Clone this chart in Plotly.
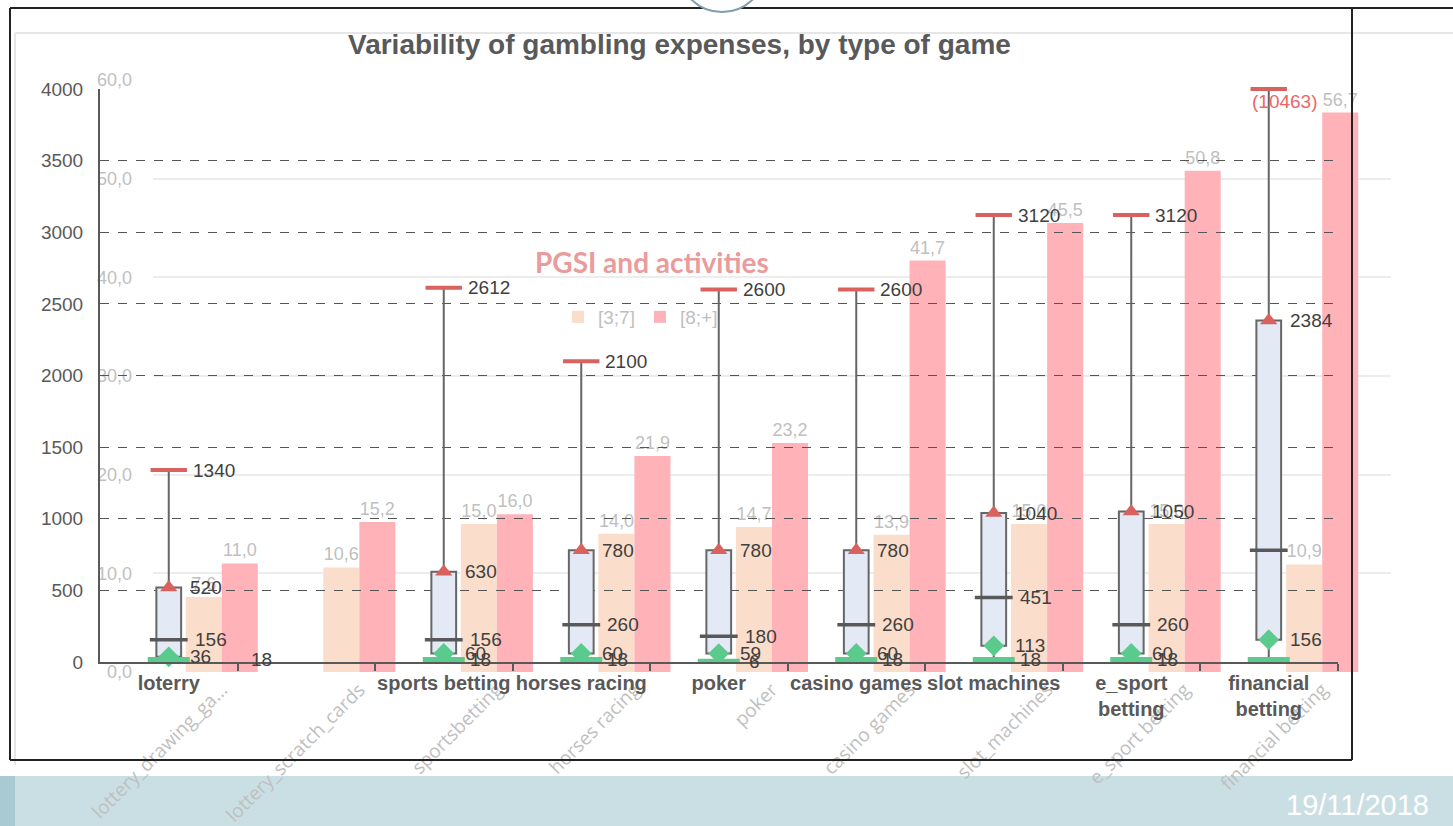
import plotly.graph_objects as go

W, H = 1453, 826

# ---------------- Box chart data (expenses) ----------------
box_labels = ["<b>loterry</b>", "", "<b>sports betting</b>", "<b>horses racing</b>", "<b>poker</b>",
              "<b>casino games</b>", "<b>slot machines</b>", "<b>e_sport<br>betting</b>",
              "<b>financial<br>betting</b>"]
box_idx = [0, 2, 3, 4, 5, 6, 7, 8]
box_max = [1340, 2612, 2100, 2600, 2600, 3120, 3120, 10463]
box_q3 = [520, 630, 780, 780, 780, 1040, 1050, 2384]
box_med = [156, 156, 260, 180, 260, 451, 260, 780]
box_q1 = [36, 60, 60, 59, 60, 113, 60, 156]
box_min = [18, 18, 18, 6, 18, 18, 18, 18]
med_shown = [True, True, True, True, True, True, True, False]
min_shown = [True, True, True, True, True, True, True, False]
box_ticks = [0, 500, 1000, 1500, 2000, 2500, 3000, 3500, 4000]
BOX_TOP = 4000

# ---------------- Bar chart data (PGSI and activities) ----------------
bar_cats = ["lottery_drawing_ga...", "lottery_scratch_cards", "sportsbetting", "horses racing",
            "poker", "casino games", "slot_machines", "e_sport betting", "financial betting"]
pgsi_3_7 = [7.6, 10.6, 15.0, 14.0, 14.7, 13.9, 15.0, 15.0, 10.9]
pgsi_8p = [11.0, 15.2, 16.0, 21.9, 23.2, 41.7, 45.5, 50.8, 56.7]
bar_ticks = [0, 10, 20, 30, 40, 50, 60]

# label pixel offsets (style)
min_label_dx = [80, 24, 24, 28, 24, 24, 24, 24]

RED = "#D9625F"
GREEN = "#5ACB8C"
DARK = "#595959"
LBL = "#404040"
LIGHT = "#BFBFBF"
PEACH = "#FADDCA"
PINK = "#FFB3B8"


def fx(p):
    return p / W


def fy(p):
    return 1 - p / H


def fmt(v):
    return f"{v:.1f}".replace(".", ",")


fig = go.Figure()

# bars (bottom subplot x/y)
fig.add_trace(go.Bar(x=bar_cats, y=pgsi_3_7, name="[3;7]", marker=dict(color=PEACH, line=dict(width=0)),
                     text=[fmt(v) for v in pgsi_3_7], textposition="outside",
                     textfont=dict(color=LIGHT, size=18, family="Liberation Sans"),
                     cliponaxis=False, xaxis="x", yaxis="y"))
fig.add_trace(go.Bar(x=bar_cats, y=pgsi_8p, name="[8;+]", marker=dict(color=PINK, line=dict(width=0)),
                     text=[fmt(v) for v in pgsi_8p], textposition="outside",
                     textfont=dict(color=LIGHT, size=18, family="Liberation Sans"),
                     cliponaxis=False, xaxis="x", yaxis="y"))

# box chart (top subplot x2/y2)
fig.add_trace(go.Box(x=box_idx, q1=box_q1, median=box_med, q3=box_q3,
                     lowerfence=box_min, upperfence=box_max, width=0.18,
                     fillcolor="#E4EAF5", line=dict(color="#666666", width=2),
                     whiskerwidth=0, boxpoints=False, showlegend=False, hoverinfo="skip",
                     xaxis="x2", yaxis="y2"))
fig.add_trace(go.Scatter(x=box_idx, y=box_min, mode="markers", showlegend=False, hoverinfo="skip",
                         marker=dict(symbol="line-ew", size=30, line=dict(color=GREEN, width=5)),
                         cliponaxis=False, xaxis="x2", yaxis="y2"))
fig.add_trace(go.Scatter(x=box_idx, y=box_q1, mode="markers", showlegend=False, hoverinfo="skip",
                         marker=dict(symbol="diamond", size=16, color=GREEN, line=dict(width=0)),
                         cliponaxis=False, xaxis="x2", yaxis="y2"))
fig.add_trace(go.Scatter(x=box_idx, y=box_med, mode="markers", showlegend=False, hoverinfo="skip",
                         marker=dict(symbol="line-ew", size=27, line=dict(color=DARK, width=3.5)),
                         xaxis="x2", yaxis="y2"))
fig.add_trace(go.Scatter(x=box_idx, y=box_q3, mode="markers", showlegend=False, hoverinfo="skip",
                         marker=dict(symbol="triangle-up", size=15, color=RED, line=dict(width=0)),
                         xaxis="x2", yaxis="y2"))
fig.add_trace(go.Scatter(x=box_idx, y=[min(v, BOX_TOP) for v in box_max], mode="markers",
                         showlegend=False, hoverinfo="skip",
                         marker=dict(symbol="line-ew", size=26, line=dict(color=RED, width=4)),
                         cliponaxis=False, xaxis="x2", yaxis="y2"))

annotations = []
lab_font = dict(family="Liberation Sans", size=19, color=LBL)


def add_lab(x, y, text, dx, color=None, xanchor="left", dy=0):
    f = dict(lab_font)
    if color:
        f["color"] = color
    annotations.append(dict(x=x, y=y, xref="x2", yref="y2", text=text, showarrow=False,
                            xanchor=xanchor, yanchor="middle", xshift=dx, yshift=dy, font=f))


for i, x in enumerate(box_idx):
    if box_max[i] <= BOX_TOP:
        add_lab(x, box_max[i], str(box_max[i]), 22)
    else:
        add_lab(x, BOX_TOP, f"({box_max[i]})", 16, color="#EE6666", xanchor="center", dy=-12)
    add_lab(x, box_q3[i], str(box_q3[i]), 19)
    if med_shown[i]:
        add_lab(x, box_med[i], str(box_med[i]), 24)
    add_lab(x, box_q1[i], str(box_q1[i]), 19)
    if min_shown[i]:
        add_lab(x, box_min[i], str(box_min[i]), min_label_dx[i])

# titles
annotations.append(dict(x=fx(679), y=fy(44), xref="paper", yref="paper", showarrow=False,
                        text="<b>Variability of gambling expenses, by type of game</b>",
                        font=dict(family="Liberation Sans", size=28, color=DARK),
                        xanchor="center", yanchor="middle"))
annotations.append(dict(x=fx(652), y=fy(262), xref="paper", yref="paper", showarrow=False,
                        text="<b>PGSI and activities</b>",
                        font=dict(family="Lato", size=28, color="#EA9C9C"),
                        xanchor="center", yanchor="middle"))
annotations.append(dict(x=fx(1284), y=fy(805), xref="paper", yref="paper", showarrow=False,
                        text="19/11/2018", font=dict(family="Liberation Sans", size=29, color="white"),
                        xanchor="left", yanchor="middle"))

shapes = [
    # bottom band
    dict(type="rect", xref="paper", yref="paper", x0=0, x1=1, y0=fy(826), y1=fy(776),
         fillcolor="#C9DFE4", line=dict(width=0), layer="below"),
    dict(type="rect", xref="paper", yref="paper", x0=0, x1=fx(15), y0=fy(826), y1=fy(776),
         fillcolor="#A9CAD2", line=dict(width=0), layer="below"),
    # light inner frame lines
    dict(type="line", xref="paper", yref="paper", x0=fx(15), x1=1, y0=fy(33), y1=fy(33),
         line=dict(color="#E6E6E6", width=2), layer="below"),
    dict(type="line", xref="paper", yref="paper", x0=fx(15), x1=fx(15), y0=fy(33), y1=fy(765),
         line=dict(color="#E6E6E6", width=2), layer="below"),
    # black frame
    dict(type="line", xref="paper", yref="paper", x0=fx(10), x1=1, y0=fy(8), y1=fy(8),
         line=dict(color="#222222", width=2), layer="above"),
    dict(type="line", xref="paper", yref="paper", x0=fx(10), x1=fx(10), y0=fy(8), y1=fy(760),
         line=dict(color="#222222", width=2), layer="above"),
    dict(type="line", xref="paper", yref="paper", x0=fx(10), x1=fx(1352), y0=fy(760), y1=fy(760),
         line=dict(color="#222222", width=2), layer="above"),
    dict(type="line", xref="paper", yref="paper", x0=fx(1352), x1=fx(1352), y0=fy(8), y1=fy(760),
         line=dict(color="#222222", width=2), layer="above"),
    # decorative circle at top
    dict(type="circle", xref="paper", yref="paper", x0=fx(678), x1=fx(766), y0=fy(12), y1=fy(-76),
         fillcolor="white", line=dict(color="#7E9FA8", width=2), layer="above"),
]

fig.update_layout(
    template="none",
    width=W, height=H,
    margin=dict(l=0, r=0, t=0, b=0, autoexpand=False),
    paper_bgcolor="white", plot_bgcolor="rgba(0,0,0,0)",
    barmode="group", bargap=0.476, bargroupgap=0,
    showlegend=True,
    legend=dict(orientation="h", x=fx(558), y=fy(298), xanchor="left", yanchor="top",
                font=dict(family="Liberation Sans", size=19, color=LIGHT),
                bgcolor="rgba(0,0,0,0)", itemwidth=30, traceorder="normal"),
    xaxis=dict(domain=[fx(153), fx(1391)], anchor="y", showline=False, showgrid=False, zeroline=False,
               automargin=False,
               ticks="", tickangle=-45, tickfont=dict(family="Open Sans", size=19, color=LIGHT),
               ticklabelstandoff=2),
    yaxis=dict(domain=[fy(672), fy(80)], anchor="x", range=[0, 60], tickvals=bar_ticks,
               ticktext=[fmt(v) for v in bar_ticks], showgrid=True, gridcolor="#EDEDED", gridwidth=2,
               zeroline=False, showline=False, ticks="", automargin=False,
               tickfont=dict(family="Liberation Sans", size=18, color=LIGHT), ticklabelstandoff=20),
    xaxis2=dict(domain=[fx(100), fx(1337.5)], anchor="y2", range=[-0.5, 8.5],
                tickvals=list(range(9)), ticktext=box_labels, ticks="", automargin=False,
                tickfont=dict(family="Liberation Sans", size=20, color=DARK),
                showline=True, linecolor=DARK, linewidth=2, showgrid=False, zeroline=False,
                minor=dict(tickvals=[i + 0.5 for i in range(9)], ticks="outside", ticklen=7,
                           tickwidth=2, tickcolor=DARK, showgrid=False),
                ticklabelstandoff=2),
    yaxis2=dict(domain=[fy(662), fy(89)], anchor="x2", range=[0, BOX_TOP], tickvals=box_ticks,
                showgrid=True, gridcolor="#555555", gridwidth=1.3, griddash="dash",
                zeroline=False, showline=True, linecolor=DARK, linewidth=2, ticks="", automargin=False,
                tickfont=dict(family="Liberation Sans", size=19, color=DARK), ticklabelstandoff=11),
    annotations=annotations,
    shapes=shapes,
)

fig.write_html("out.html", config={"displayModeBar": False},
               post_script="document.body.style.margin='0px';document.body.style.overflow='hidden';")
